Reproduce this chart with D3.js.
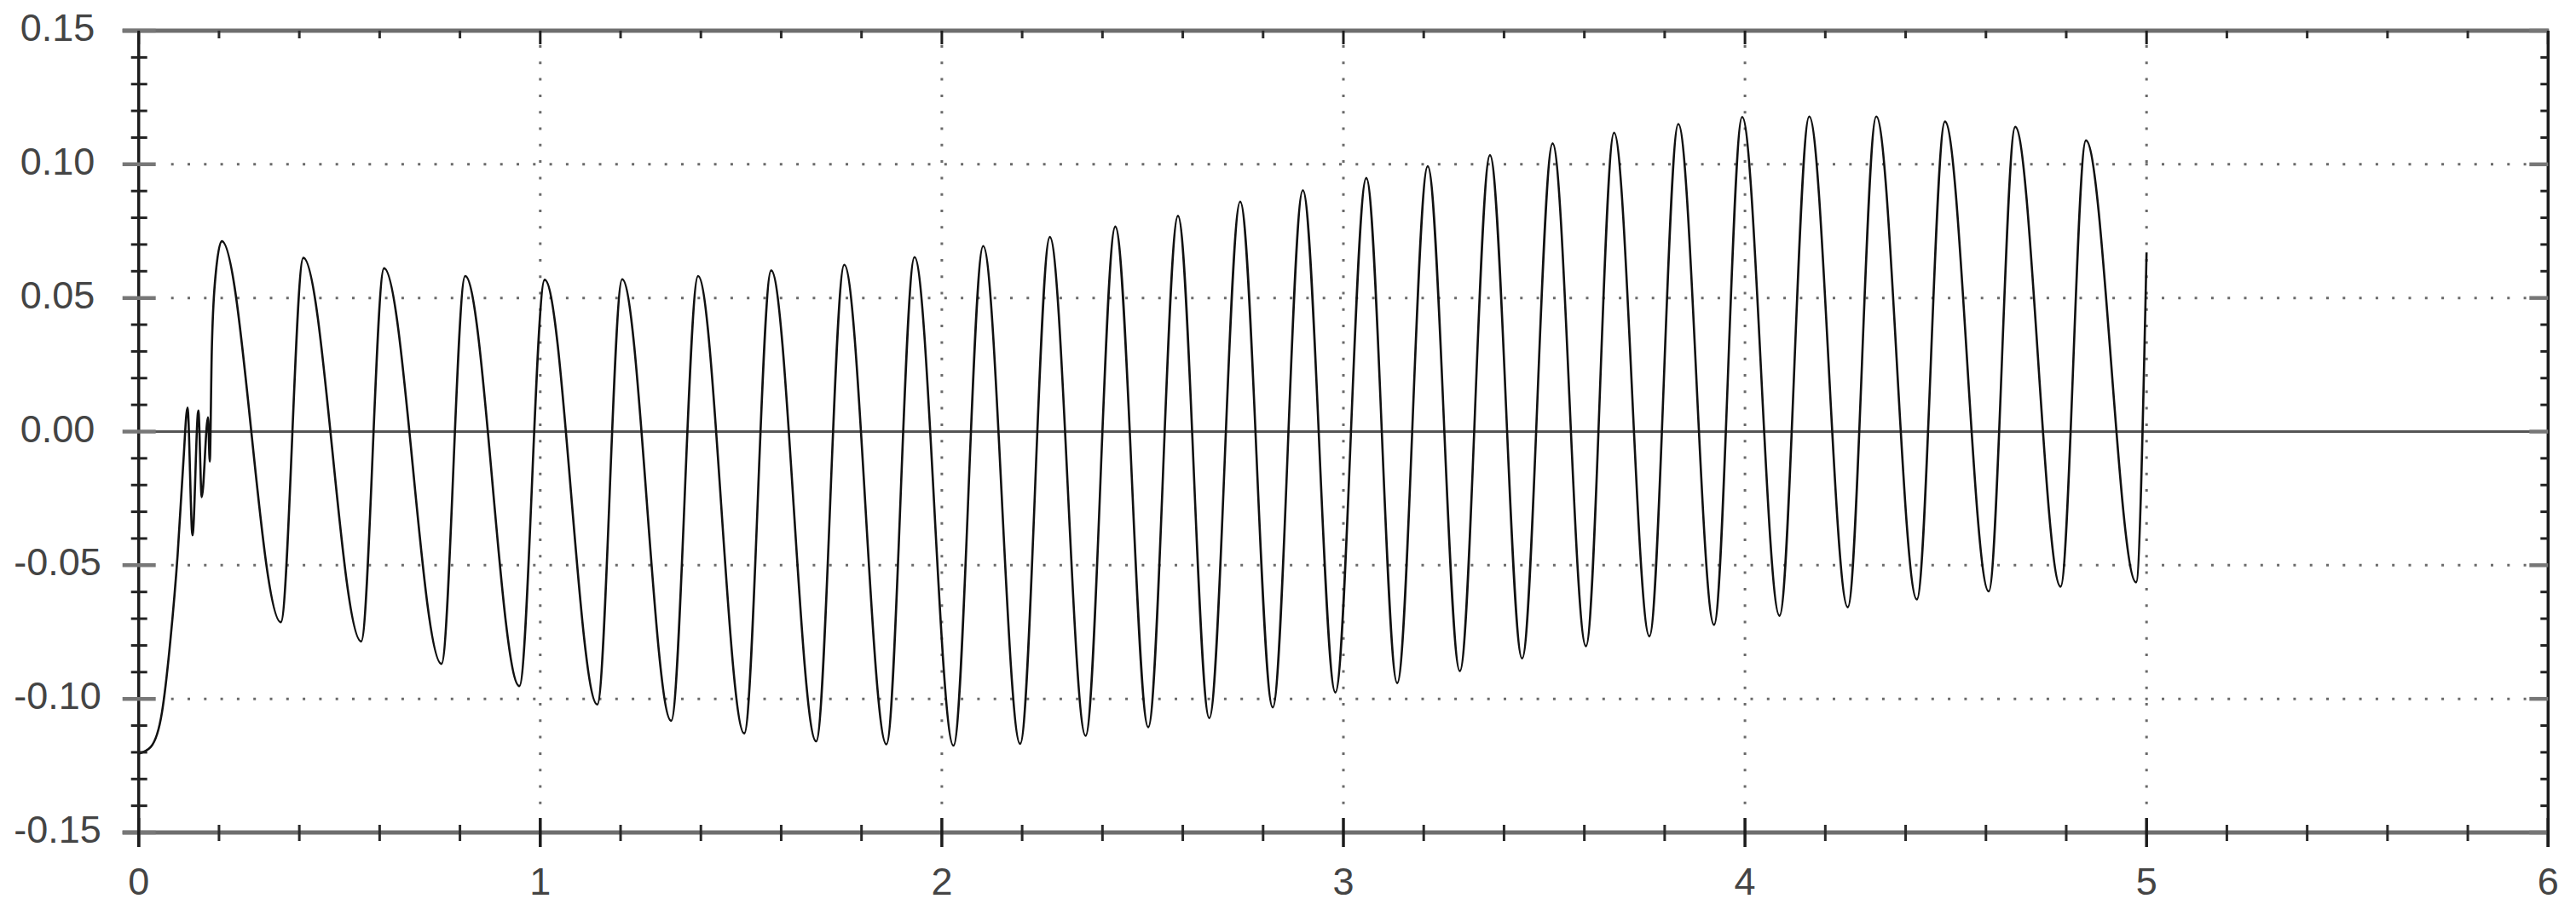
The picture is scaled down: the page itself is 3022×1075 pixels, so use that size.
<!DOCTYPE html>
<html lang="en">
<head>
<meta charset="UTF-8">
<title>Oscillation</title>
<script src="https://d3js.org/d3.v7.min.js"></script>
<style>
  html, body { margin: 0; padding: 0; background: #fff; }
  svg { display: block; }
  .lbl { font-family: "Liberation Sans", Arial, sans-serif; font-size: 45px; fill: #444; }
</style>
</head>
<body>
<div id="chart"></div>
<script>
// start of the record: rise from the minimum and the short glitch
var startTimes  = [0, 0.03, 0.058, 0.079, 0.097, 0.111, 0.1216, 0.134, 0.1486, 0.157, 0.1726, 0.177, 0.182, 0.190];
var startValues = [-0.1205, -0.118, -0.105, -0.078, -0.046, -0.012, 0.009, -0.0388, 0.0079, -0.0245, 0.0053, -0.0112, 0.030, 0.056];

// peaks
var peakTimes  = [0.207, 0.410, 0.611, 0.813, 1.011, 1.204, 1.393, 1.575, 1.757, 1.932, 2.103, 2.269, 2.432,
                  2.588, 2.743, 2.899, 3.057, 3.210, 3.365, 3.521, 3.674, 3.834, 3.993, 4.160, 4.327, 4.498, 4.673, 4.849];
var peakValues = [0.0712, 0.0650, 0.0611, 0.0582, 0.0568, 0.0570, 0.0582, 0.0603, 0.0624, 0.0653, 0.0694, 0.0728, 0.0767,
                  0.0807, 0.0860, 0.0903, 0.0949, 0.0993, 0.1034, 0.1078, 0.1118, 0.1151, 0.1177, 0.1179, 0.1179, 0.1160, 0.1140, 0.1089];

// troughs
var troughTimes  = [0.354, 0.554, 0.754, 0.948, 1.142, 1.326, 1.508, 1.687, 1.862, 2.029, 2.195, 2.358, 2.514,
                    2.666, 2.824, 2.980, 3.134, 3.290, 3.445, 3.604, 3.762, 3.923, 4.086, 4.256, 4.428, 4.607, 4.786, 4.974];
var troughValues = [-0.0713, -0.0785, -0.0869, -0.0952, -0.1021, -0.1082, -0.1129, -0.1159, -0.1170, -0.1175, -0.1168, -0.1138, -0.1106,
                    -0.1072, -0.1032, -0.0976, -0.0941, -0.0896, -0.0849, -0.0803, -0.0766, -0.0723, -0.0689, -0.0657, -0.0628, -0.0598, -0.0580, -0.0564];

// last sample
var endTimes  = [5.0];
var endValues = [0.067];

var xTickValues = [0, 1, 2, 3, 4, 5, 6];
var xTickLabels = ["0", "1", "2", "3", "4", "5", "6"];
var yTickValues = [0.15, 0.10, 0.05, 0.00, -0.05, -0.10, -0.15];
var yTickLabels = ["0.15", "0.10", "0.05", "0.00", "-0.05", "-0.10", "-0.15"];

var width = 3022, height = 1075;
var plotLeft = 162.7, plotRight = 2989.3, plotTop = 36, plotBottom = 977;

var svg = d3.select("#chart").append("svg")
    .attr("width", width)
    .attr("height", height);

var x = d3.scaleLinear().domain([0, 6]).range([plotLeft, plotRight]);
var y = d3.scaleLinear().domain([-0.15, 0.15]).range([plotBottom, plotTop]);

// merge everything into one series sorted by time
var points = [];
function addPts(ts, vs) {
    ts.forEach(function(t, i) { points.push({ t: t, v: vs[i] }); });
}
addPts(startTimes, startValues);
addPts(peakTimes, peakValues);
addPts(troughTimes, troughValues);
addPts(endTimes, endValues);
points.sort(function(a, b) { return a.t - b.t; });

// minor tick positions
var xMinor = d3.range(0, 6.0001, 0.2).filter(function(d) { return Math.abs(d - Math.round(d)) > 1e-6; });
var yMinor = d3.range(-15, 16, 1).filter(function(d) { return d % 5 !== 0; }).map(function(d) { return d / 100; });

// dotted grid
var grid = svg.append("g")
    .attr("stroke", "#6a6a6a")
    .attr("stroke-width", 3)
    .attr("stroke-dasharray", "3 16.3");

grid.selectAll(".gx")
    .data(xTickValues.filter(function(d) { return d > 0 && d < 6; }))
    .enter().append("line")
    .attr("x1", function(d) { return x(d); })
    .attr("x2", function(d) { return x(d); })
    .attr("y1", plotTop + 17)
    .attr("y2", plotBottom - 17);

grid.selectAll(".gy")
    .data(yTickValues.filter(function(d) { return Math.abs(d) > 0.001 && Math.abs(d) < 0.149; }))
    .enter().append("line")
    .attr("x1", plotLeft + 38)
    .attr("x2", plotRight - 22)
    .attr("y1", function(d) { return y(d); })
    .attr("y2", function(d) { return y(d); });

// zero line
svg.append("line")
    .attr("x1", plotLeft).attr("x2", plotRight)
    .attr("y1", y(0)).attr("y2", y(0))
    .attr("stroke", "#555")
    .attr("stroke-width", 3);

// the signal
var line = d3.line()
    .x(function(d) { return x(d.t); })
    .y(function(d) { return y(d.v); })
    .curve(d3.curveMonotoneX);

svg.append("path")
    .datum(points)
    .attr("d", line)
    .attr("fill", "none")
    .attr("stroke", "#111")
    .attr("stroke-width", 2.6)
    .attr("stroke-linejoin", "round");

// frame
svg.append("line").attr("x1", plotLeft - 19).attr("x2", plotRight + 1).attr("y1", plotTop).attr("y2", plotTop)
    .attr("stroke", "#6e6e6e").attr("stroke-width", 5);
svg.append("line").attr("x1", plotLeft - 19).attr("x2", plotRight + 1).attr("y1", plotBottom).attr("y2", plotBottom)
    .attr("stroke", "#6e6e6e").attr("stroke-width", 5);
svg.append("line").attr("x1", plotLeft).attr("x2", plotLeft).attr("y1", plotTop).attr("y2", plotBottom + 17)
    .attr("stroke", "#1c1c1c").attr("stroke-width", 3.5);
svg.append("line").attr("x1", plotRight).attr("x2", plotRight).attr("y1", plotTop).attr("y2", plotBottom + 17)
    .attr("stroke", "#1c1c1c").attr("stroke-width", 3.5);

// y ticks
var ticks = svg.append("g");
ticks.selectAll(".ymin-l").data(yMinor).enter().append("line")
    .attr("x1", plotLeft - 9).attr("x2", plotLeft + 10)
    .attr("y1", function(d) { return y(d); }).attr("y2", function(d) { return y(d); })
    .attr("stroke", "#222").attr("stroke-width", 3);
ticks.selectAll(".ymin-r").data(yMinor).enter().append("line")
    .attr("x1", plotRight - 9).attr("x2", plotRight)
    .attr("y1", function(d) { return y(d); }).attr("y2", function(d) { return y(d); })
    .attr("stroke", "#222").attr("stroke-width", 3);
ticks.selectAll(".ymaj-l").data(yTickValues).enter().append("line")
    .attr("x1", plotLeft - 19).attr("x2", plotLeft + 20)
    .attr("y1", function(d) { return y(d); }).attr("y2", function(d) { return y(d); })
    .attr("stroke", "#777").attr("stroke-width", 4.5);
ticks.selectAll(".ymaj-r").data(yTickValues).enter().append("line")
    .attr("x1", plotRight - 22).attr("x2", plotRight)
    .attr("y1", function(d) { return y(d); }).attr("y2", function(d) { return y(d); })
    .attr("stroke", "#777").attr("stroke-width", 4.5);

// x ticks
ticks.selectAll(".xmin-b").data(xMinor).enter().append("line")
    .attr("x1", function(d) { return x(d); }).attr("x2", function(d) { return x(d); })
    .attr("y1", plotBottom - 9).attr("y2", plotBottom + 10)
    .attr("stroke", "#2a2a2a").attr("stroke-width", 3);
ticks.selectAll(".xmin-t").data(xMinor).enter().append("line")
    .attr("x1", function(d) { return x(d); }).attr("x2", function(d) { return x(d); })
    .attr("y1", plotTop).attr("y2", plotTop + 9)
    .attr("stroke", "#2a2a2a").attr("stroke-width", 3);
ticks.selectAll(".xmaj-b").data(xTickValues).enter().append("line")
    .attr("x1", function(d) { return x(d); }).attr("x2", function(d) { return x(d); })
    .attr("y1", plotBottom - 17).attr("y2", plotBottom + 17)
    .attr("stroke", "#1c1c1c").attr("stroke-width", 3.5);
ticks.selectAll(".xmaj-t").data(xTickValues).enter().append("line")
    .attr("x1", function(d) { return x(d); }).attr("x2", function(d) { return x(d); })
    .attr("y1", plotTop).attr("y2", plotTop + 16)
    .attr("stroke", "#1c1c1c").attr("stroke-width", 3);

// labels
svg.selectAll(".ylab").data(yTickValues).enter().append("text")
    .attr("class", "lbl")
    .attr("x", 67.5)
    .attr("y", function(d) { return y(d) + 12; })
    .attr("text-anchor", "middle")
    .text(function(d, i) { return yTickLabels[i]; });

svg.selectAll(".xlab").data(xTickValues).enter().append("text")
    .attr("class", "lbl")
    .attr("x", function(d) { return x(d); })
    .attr("y", 1050)
    .attr("text-anchor", "middle")
    .text(function(d, i) { return xTickLabels[i]; });
</script>
</body>
</html>
